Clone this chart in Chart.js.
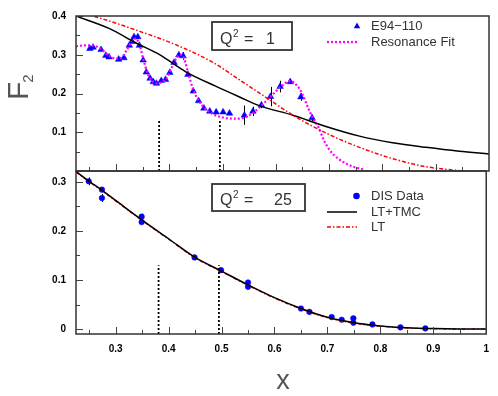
<!DOCTYPE html>
<html>
<head>
<meta charset="utf-8">
<script src="https://cdn.jsdelivr.net/npm/chart.js@4.4.1/dist/chart.umd.min.js"></script>
<style>
  html, body { margin: 0; padding: 0; background: #fff; }
  #wrap { position: relative; width: 498px; height: 396px; }
  #wrap canvas { position: absolute; left: 0; top: 0; }
</style>
</head>
<body>
<div id="wrap">
  <canvas id="topChart" width="498" height="396"></canvas>
  <canvas id="bottomChart" width="498" height="396"></canvas>
</div>
<script>
/* valores */
const xMin = 0.225, xMax = 1;
const cutX = [0.381, 0.495];
const cutTop = 0.13;

// painel de cima, Q^2 = 1
const e94X = [0.251, 0.257, 0.272, 0.281, 0.287, 0.305, 0.315, 0.325, 0.330, 0.334, 0.341, 0.344, 0.351,
  0.357, 0.364, 0.370, 0.376, 0.385, 0.393, 0.401, 0.409, 0.418, 0.426, 0.435, 0.445, 0.455, 0.465, 0.476,
  0.488, 0.501, 0.513, 0.541, 0.557, 0.573, 0.590, 0.608, 0.627, 0.647, 0.668];
const e94Y = [0.316, 0.319, 0.313, 0.298, 0.294, 0.288, 0.292, 0.324, 0.334, 0.346, 0.346, 0.324, 0.286,
  0.255, 0.239, 0.230, 0.226, 0.233, 0.236, 0.254, 0.280, 0.299, 0.297, 0.249, 0.206, 0.181, 0.162, 0.154,
  0.152, 0.152, 0.149, 0.144, 0.154, 0.170, 0.192, 0.218, 0.230, 0.191, 0.137];
const e94Err = [0.004, 0.004, 0.004, 0.004, 0.004, 0.004, 0.004, 0.004, 0.004, 0.005, 0.005, 0.005, 0.004,
  0.004, 0.004, 0.004, 0.004, 0.004, 0.004, 0.004, 0.005, 0.006, 0.010, 0.005, 0.004, 0.004, 0.004, 0.004,
  0.004, 0.004, 0.004, 0.025, 0.012, 0.008, 0.025, 0.015, 0.005, 0.010, 0.008];

const resFitX = [0.225, 0.24, 0.257, 0.27, 0.285, 0.30, 0.31, 0.32, 0.33, 0.337, 0.345, 0.352, 0.36, 0.368,
  0.376, 0.386, 0.395, 0.405, 0.414, 0.421, 0.428, 0.435, 0.445, 0.455, 0.468, 0.48, 0.495, 0.51, 0.53,
  0.545, 0.557, 0.57, 0.59, 0.61, 0.627, 0.64, 0.65, 0.66, 0.67, 0.68, 0.69, 0.70, 0.71, 0.72, 0.735,
  0.75, 0.765];
const resFitY = [0.322, 0.324, 0.324, 0.316, 0.300, 0.290, 0.292, 0.312, 0.335, 0.342, 0.322, 0.285, 0.250,
  0.232, 0.226, 0.230, 0.240, 0.268, 0.292, 0.300, 0.290, 0.255, 0.210, 0.182, 0.160, 0.148, 0.140, 0.136,
  0.135, 0.140, 0.150, 0.165, 0.192, 0.218, 0.232, 0.220, 0.198, 0.165, 0.135, 0.113, 0.080, 0.056, 0.040,
  0.029, 0.017, 0.009, 0.004];

const tmc1X = [0.225, 0.287, 0.337, 0.381, 0.431, 0.487, 0.532, 0.570, 0.632, 0.694, 0.757, 0.819, 0.882, 0.944, 1.0];
const tmc1Y = [0.400, 0.368, 0.331, 0.301, 0.256, 0.219, 0.191, 0.168, 0.144, 0.115, 0.090, 0.073, 0.061, 0.051, 0.044];

const lt1X = [0.225, 0.244, 0.290, 0.337, 0.412, 0.481, 0.532, 0.587, 0.632, 0.694, 0.757, 0.819, 0.882, 0.95];
const lt1Y = [0.412, 0.405, 0.386, 0.364, 0.326, 0.281, 0.235, 0.185, 0.144, 0.098, 0.061, 0.032, 0.011, 0.0];

// painel de baixo, Q^2 = 25
const disX = [0.249, 0.274, 0.274, 0.349, 0.349, 0.449, 0.499, 0.550, 0.550, 0.650, 0.666, 0.708, 0.727,
  0.749, 0.749, 0.785, 0.838, 0.885];
const disY = [0.301, 0.284, 0.267, 0.229, 0.218, 0.146, 0.120, 0.095, 0.086, 0.042, 0.035, 0.0245, 0.019,
  0.022, 0.013, 0.0096, 0.0035, 0.0014];
const disErr = [0.008, 0.005, 0.008, 0.006, 0.005, 0.004, 0.004, 0.004, 0.004, 0.003, 0.002, 0.002, 0.002,
  0.003, 0.002, 0.002, 0.001, 0.001];

const tmc25X = [0.225, 0.25, 0.275, 0.30, 0.35, 0.40, 0.45, 0.50, 0.55, 0.60, 0.65, 0.70, 0.75, 0.80, 0.85, 0.90, 0.95, 1.0];
const tmc25Y = [0.321, 0.301, 0.282, 0.262, 0.222, 0.184, 0.146, 0.118, 0.090, 0.064, 0.042, 0.024, 0.013,
  0.0065, 0.0028, 0.0010, 0.0002, 0.0];
const lt25X = [0.225, 0.25, 0.275, 0.30, 0.35, 0.40, 0.45, 0.50, 0.55, 0.60, 0.65, 0.70, 0.75, 0.80, 0.85, 0.90, 0.95, 1.0];
const lt25Y = [0.320, 0.300, 0.281, 0.261, 0.221, 0.183, 0.145, 0.117, 0.089, 0.063, 0.041, 0.023, 0.012,
  0.006, 0.0022, 0.0006, 0.0, 0.0];

const FONT = "'Liberation Sans', Arial, sans-serif";

function toPts(xs, ys) {
  return xs.map((x, i) => ({ x: x, y: ys[i] }));
}

function lineDs(xs, ys, color, width, dash) {
  return {
    data: toPts(xs, ys),
    showLine: true,
    borderColor: color,
    borderWidth: width,
    borderDash: dash,
    pointRadius: 0,
    fill: false,
    cubicInterpolationMode: "monotone",
  };
}

function cutDs(yLow) {
  return cutX.map((c) => ({
    data: [{ x: c, y: yLow }, { x: c, y: cutTop }],
    showLine: true,
    borderColor: "#000",
    borderWidth: 1.8,
    borderDash: [2, 2],
    pointRadius: 0,
  }));
}

function fmtTick(v, hideZero) {
  if (Math.abs(v) < 1e-9) return hideZero ? "" : "0";
  if (Math.abs(v - 1) < 1e-9) return "1";
  return v.toFixed(1);
}

/* plugin: barras de erro, moldura, ticks internos, legenda e caixa Q^2 */
const decor = {
  id: "decor",
  beforeDatasetsDraw(chart) {
    const ctx = chart.ctx, xs = chart.scales.x, ys = chart.scales.y;
    ctx.save();
    ctx.strokeStyle = "#000";
    ctx.lineWidth = 1;
    chart.data.datasets.forEach((ds) => {
      if (!ds.errors) return;
      ds.data.forEach((p, i) => {
        const px = Math.round(xs.getPixelForValue(p.x)) + 0.5;
        ctx.beginPath();
        ctx.moveTo(px, ys.getPixelForValue(p.y - ds.errors[i]));
        ctx.lineTo(px, ys.getPixelForValue(p.y + ds.errors[i]));
        ctx.stroke();
      });
    });
    ctx.restore();
  },
  afterDraw(chart, args, opts) {
    const ctx = chart.ctx, xs = chart.scales.x, ys = chart.scales.y;
    const a = chart.chartArea;
    ctx.save();

    // ticks para dentro
    ctx.strokeStyle = "#444";
    ctx.lineWidth = 1;
    for (let i = 5; i <= 19; i++) {
      const px = Math.round(xs.getPixelForValue(i * 0.05)) + 0.5;
      const len = i % 2 === 0 ? 7 : 4;
      ctx.beginPath();
      ctx.moveTo(px, a.bottom);
      ctx.lineTo(px, a.bottom - len);
      ctx.stroke();
    }
    for (let i = 0; i * 0.05 <= opts.yTickMax + 1e-9; i++) {
      const py = Math.round(ys.getPixelForValue(i * 0.05)) + 0.5;
      const len = i % 2 === 0 ? 7 : 4;
      ctx.beginPath();
      ctx.moveTo(a.left, py);
      ctx.lineTo(a.left + len, py);
      ctx.stroke();
    }

    // moldura
    ctx.strokeStyle = "#333";
    ctx.lineWidth = 1.5;
    ctx.strokeRect(a.left, a.top, a.right - a.left, a.bottom - a.top);

    // caixa Q^2
    const b = opts.box;
    ctx.fillStyle = "#fff";
    ctx.fillRect(b.x, b.y, b.w, b.h);
    ctx.strokeStyle = "#333";
    ctx.lineWidth = 1.8;
    ctx.strokeRect(b.x, b.y, b.w, b.h);
    ctx.fillStyle = "#333";
    ctx.textAlign = "left";
    ctx.textBaseline = "alphabetic";
    ctx.font = "16px " + FONT;
    ctx.fillText("Q", b.x + 8, b.base);
    ctx.font = "10px " + FONT;
    ctx.fillText("2", b.x + 21, b.base - 7);
    ctx.font = "16px " + FONT;
    ctx.fillText("=", b.x + 32, b.base);
    ctx.fillText(b.value, b.x + b.valueDx, b.base);

    // legenda
    ctx.font = "13px " + FONT;
    ctx.textBaseline = "middle";
    opts.legend.forEach((it) => {
      ctx.save();
      if (it.kind === "tri") {
        ctx.fillStyle = "#0000ff";
        ctx.beginPath();
        ctx.moveTo(357, it.y - 3.5);
        ctx.lineTo(360.2, it.y + 2.2);
        ctx.lineTo(353.8, it.y + 2.2);
        ctx.closePath();
        ctx.fill();
      } else if (it.kind === "dot") {
        ctx.fillStyle = "#0000ff";
        ctx.beginPath();
        ctx.arc(356.5, it.y, 3.3, 0, Math.PI * 2);
        ctx.fill();
      } else {
        ctx.strokeStyle = it.color;
        ctx.lineWidth = it.width;
        ctx.setLineDash(it.dash);
        ctx.beginPath();
        ctx.moveTo(327, it.y);
        ctx.lineTo(357, it.y);
        ctx.stroke();
      }
      ctx.restore();
      ctx.fillStyle = "#333";
      ctx.fillText(it.text, 371, it.y);
    });

    // titulos dos eixos
    if (opts.titles) {
      ctx.fillStyle = "#555";
      ctx.textBaseline = "alphabetic";
      ctx.textAlign = "center";
      ctx.font = "27px " + FONT;
      ctx.fillText("x", 283, 389);
      ctx.save();
      ctx.translate(28, 100);
      ctx.rotate(-Math.PI / 2);
      ctx.textAlign = "left";
      ctx.font = "30px " + FONT;
      ctx.fillText("F", 0, 0);
      const w = ctx.measureText("F").width;
      ctx.font = "15px " + FONT;
      ctx.fillText("2", w - 1, 5);
      ctx.restore();
    }
    ctx.restore();
  },
};

function makePanel(id, cfg) {
  return new Chart(document.getElementById(id).getContext("2d"), {
    type: "scatter",
    data: { datasets: cfg.datasets },
    options: {
      responsive: false,
      animation: false,
      events: [],
      layout: { autoPadding: false, padding: cfg.padding },
      plugins: {
        legend: { display: false },
        tooltip: { enabled: false },
        decor: cfg.decor,
      },
      scales: {
        x: {
          type: "linear",
          min: xMin,
          max: xMax,
          display: cfg.showX,
          grid: { display: false, drawTicks: false },
          border: { display: false },
          ticks: {
            stepSize: 0.1,
            includeBounds: false,
            autoSkip: false,
            maxRotation: 0,
            padding: 9,
            color: "#000",
            font: { family: FONT, size: 10, weight: "bold" },
            callback: (v) => fmtTick(v, false),
          },
          afterFit: (s) => { s.height = cfg.showX ? 62 : 0; },
        },
        y: {
          min: cfg.yMin,
          max: cfg.yMax,
          grid: { display: false, drawTicks: false },
          border: { display: false },
          ticks: {
            stepSize: 0.1,
            includeBounds: false,
            padding: 10,
            color: "#000",
            font: { family: FONT, size: 10, weight: "bold" },
            callback: (v) => fmtTick(v, cfg.hideZero),
          },
          afterFit: (s) => { s.width = 76; },
        },
      },
    },
    plugins: [decor],
  });
}

document.addEventListener("DOMContentLoaded", function () {
  makePanel("topChart", {
    yMin: 0,
    yMax: 0.4,
    hideZero: true,
    showX: false,
    padding: { top: 9, right: 9, bottom: 225, left: 0 },
    datasets: [
      ...cutDs(0),
      lineDs(lt1X, lt1Y, "#ff0000", 1.5, [4, 2, 1.5, 2]),
      lineDs(tmc1X, tmc1Y, "#000", 1.5, []),
      lineDs(resFitX, resFitY, "#ff00ff", 2.2, [2, 2]),
      {
        data: toPts(e94X, e94Y),
        errors: e94Err,
        pointStyle: "triangle",
        pointRadius: 3.8,
        backgroundColor: "#0000ff",
        borderColor: "#0000ff",
        borderWidth: 0.5,
      },
    ],
    decor: {
      yTickMax: 0.4,
      titles: true,
      box: { x: 212, y: 22, w: 80, h: 28, base: 44, value: "1", valueDx: 54 },
      legend: [
        { kind: "tri", y: 26, text: "E94\u2212110" },
        { kind: "line", y: 42, color: "#ff00ff", width: 2.2, dash: [2, 2], text: "Resonance Fit" },
      ],
    },
  });

  makePanel("bottomChart", {
    yMin: -0.01,
    yMax: 0.322,
    hideZero: false,
    showX: true,
    padding: { top: 171, right: 9, bottom: 0, left: 0 },
    datasets: [
      ...cutDs(-0.01),
      lineDs(tmc25X, tmc25Y, "#000", 1.5, []),
      lineDs(lt25X, lt25Y, "#ff0000", 1.3, [4, 2, 1.5, 2]),
      {
        data: toPts(disX, disY),
        errors: disErr,
        pointStyle: "circle",
        pointRadius: 2.8,
        backgroundColor: "#0000ff",
        borderColor: "#0000ff",
        borderWidth: 0.5,
      },
    ],
    decor: {
      yTickMax: 0.3,
      titles: false,
      box: { x: 212, y: 184, w: 93, h: 27, base: 205, value: "25", valueDx: 62 },
      legend: [
        { kind: "dot", y: 196, text: "DIS Data" },
        { kind: "line", y: 212, color: "#000", width: 1.5, dash: [], text: "LT+TMC" },
        { kind: "line", y: 227, color: "#ff0000", width: 1.5, dash: [4, 2, 1.5, 2], text: "LT" },
      ],
    },
  });
});
</script>
</body>
</html>
